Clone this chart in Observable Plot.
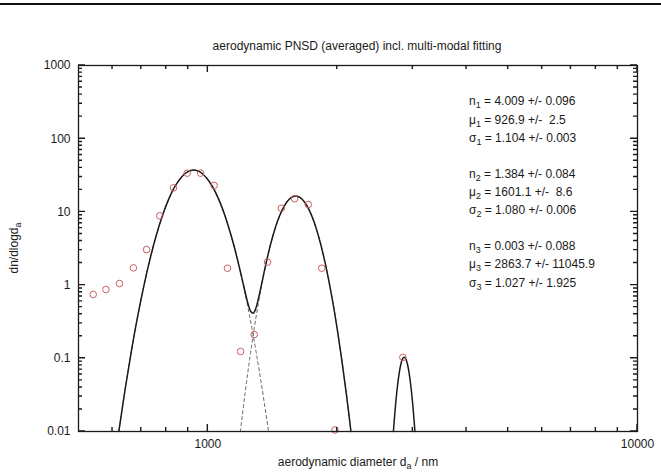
<!DOCTYPE html>
<html><head><meta charset="utf-8">
<script src="https://cdn.jsdelivr.net/npm/d3@7"></script>
<script src="https://cdn.jsdelivr.net/npm/@observablehq/plot@0.6"></script>
<style>
body{margin:0;background:#fff;}
#wrap{position:relative;width:661px;height:476px;overflow:hidden;}
#topline{position:absolute;left:0;top:3px;width:661px;height:2px;background:#111;}
#chart svg text{font-family:"Liberation Sans",Arial,sans-serif;}
</style></head><body>
<div id="wrap"><div id="chart"></div><div id="topline"></div></div>
<script>
// measured data points (diameter in nm, dn/dlogd)
const pointD = [541, 579, 623, 671, 720, 773, 832, 895, 962, 1034, 1111, 1192, 1282, 1377, 1482, 1592, 1713, 1841, 1977, 2844];
const pointV = [0.745, 0.87, 1.05, 1.72, 3.06, 8.85, 21.3, 33.8, 33.8, 23.0, 1.70, 0.124, 0.211, 2.06, 11.2, 15.1, 12.6, 1.70, 0.0105, 0.103];

// fitted mode 1 (dashed)
const mode1D = [620.6, 641.7, 663.5, 686.0, 709.4, 733.5, 758.4, 784.2, 810.9, 838.4, 866.9, 896.4, 926.9, 958.4, 991.0, 1024.7, 1059.6, 1095.6, 1132.8, 1171.3, 1211.1, 1252.3, 1294.9, 1338.9, 1384.4];
const mode1V = [0.01, 0.03718, 0.1233, 0.3650, 0.9633, 2.268, 4.765, 8.930, 14.93, 22.27, 29.62, 35.16, 37.22, 35.16, 29.62, 22.27, 14.93, 8.930, 4.765, 2.268, 0.9633, 0.3650, 0.1233, 0.03718, 0.01];

// fitted mode 2 (dashed)
const mode2D = [1190.6, 1220.3, 1250.8, 1282.1, 1314.1, 1347.0, 1380.7, 1415.2, 1450.5, 1486.8, 1524.0, 1562.1, 1601.1, 1641.1, 1682.2, 1724.2, 1767.3, 1811.5, 1856.8, 1903.2, 1950.7, 1999.5, 2049.5, 2100.7, 2153.2];
const mode2V = [0.01, 0.03266, 0.09622, 0.2558, 0.6134, 1.327, 2.591, 4.564, 7.252, 10.40, 13.45, 15.69, 16.52, 15.69, 13.45, 10.40, 7.252, 4.564, 2.591, 1.327, 0.6134, 0.2558, 0.09622, 0.03266, 0.01];

// total fit (solid)
const sumD = [620.6, 641.7, 663.5, 686.0, 709.4, 733.5, 758.4, 784.2, 810.9, 838.4, 866.9, 896.4, 926.9, 958.4, 991.0, 1024.7, 1059.6, 1095.6, 1132.8, 1148.2, 1174.9, 1202.3, 1230.3, 1244.5, 1258.9, 1275.0, 1288.2, 1303.2, 1318.3, 1349.0, 1380.4, 1412.5, 1450.5, 1486.8, 1524.0, 1562.1, 1601.1, 1641.1, 1682.2, 1724.2, 1767.3, 1811.5, 1856.8, 1903.2, 1950.7, 1999.5, 2049.5, 2100.7, 2153.2];
const sumV = [0.01, 0.03718, 0.1233, 0.3650, 0.9633, 2.268, 4.765, 8.930, 14.93, 22.27, 29.62, 35.16, 37.22, 35.16, 29.62, 22.27, 14.93, 8.930, 4.765, 3.584, 2.113, 1.1905, 0.667, 0.5192, 0.4355, 0.4138, 0.4524, 0.5601, 0.7461, 1.413, 2.590, 4.393, 7.252, 10.40, 13.45, 15.69, 16.52, 15.69, 13.45, 10.40, 7.252, 4.564, 2.591, 1.327, 0.6134, 0.2558, 0.09622, 0.03266, 0.01];

// fitted mode 3 (solid)
const mode3D = [2703.4, 2716.4, 2729.5, 2742.6, 2755.8, 2769.1, 2782.4, 2795.8, 2809.2, 2822.7, 2836.4, 2850.0, 2863.7, 2877.5, 2891.3, 2905.2, 2919.2, 2933.2, 2947.4, 2961.5, 2975.8, 2990.1, 3004.5, 3018.9, 3033.5];
const mode3V = [0.01, 0.01452, 0.02042, 0.02779, 0.03662, 0.04671, 0.05768, 0.06895, 0.07979, 0.08939, 0.09694, 0.1018, 0.1034, 0.1018, 0.09694, 0.08939, 0.07979, 0.06895, 0.05768, 0.04671, 0.03662, 0.02779, 0.02042, 0.01452, 0.01];

// ticks
const xMajor = [1000, 10000];
const xMajorLabels = ["1000", "10000"];
const xMinor = [600, 700, 800, 900, 2000, 3000, 4000, 5000, 6000, 7000, 8000, 9000];
const yMajor = [0.01, 0.1, 1, 10, 100, 1000];
const yMajorLabels = ["0.01", "0.1", "1", "10", "100", "1000"];
const yMinor = [0.02,0.03,0.04,0.05,0.06,0.07,0.08,0.09, 0.2,0.3,0.4,0.5,0.6,0.7,0.8,0.9, 2,3,4,5,6,7,8,9, 20,30,40,50,60,70,80,90, 200,300,400,500,600,700,800,900];

// texts
const titleText = "aerodynamic PNSD (averaged) incl. multi-modal fitting";
const xLabelParts = ["aerodynamic diameter d", "a", " / nm"];
const yLabelParts = ["dn/dlogd", "a", ""];
const fitLines = [
  ["n", "1", " = 4.009 +/- 0.096"],
  ["μ", "1", " = 926.9 +/-  2.5"],
  ["σ", "1", " = 1.104 +/- 0.003"],
  ["n", "2", " = 1.384 +/- 0.084"],
  ["μ", "2", " = 1601.1 +/-  8.6"],
  ["σ", "2", " = 1.080 +/- 0.006"],
  ["n", "3", " = 0.003 +/- 0.088"],
  ["μ", "3", " = 2863.7 +/- 11045.9"],
  ["σ", "3", " = 1.027 +/- 1.925"]
];
const fitLineY = [105, 124, 142, 178, 196, 214, 250, 268, 287];

const rows = (D, V) => D.map((d, i) => ({d, v: V[i]}));
const xLab = new Map(xMajor.map((d, i) => [d, xMajorLabels[i]]));
const yLab = new Map(yMajor.map((d, i) => [d, yMajorLabels[i]]));
const ink = "#1a1a1a";

const chart = Plot.plot({
  width: 661, height: 476,
  marginLeft: 78, marginRight: 24, marginTop: 65, marginBottom: 45,
  style: {fontFamily: "Liberation Sans, Arial, sans-serif", fontSize: "12px", background: "transparent", color: ink},
  x: {type: "log", domain: [500, 10000]},
  y: {type: "log", domain: [0.01, 1000]},
  marks: [
    Plot.line(rows(mode1D, mode1V), {x: "d", y: "v", stroke: "#666", strokeWidth: 1, strokeDasharray: "3,3", curve: "catmull-rom"}),
    Plot.line(rows(mode2D, mode2V), {x: "d", y: "v", stroke: "#666", strokeWidth: 1, strokeDasharray: "3,3", curve: "catmull-rom"}),
    Plot.line(rows(sumD, sumV), {x: "d", y: "v", stroke: ink, strokeWidth: 1.5, curve: "catmull-rom"}),
    Plot.line(rows(mode3D, mode3V), {x: "d", y: "v", stroke: ink, strokeWidth: 1.5, curve: "catmull-rom"}),
    Plot.dot(rows(pointD, pointV), {x: "d", y: "v", r: 3.3, stroke: "#c8605e", strokeWidth: 1, fill: "none"}),
    Plot.axisX(xMajor, {anchor: "bottom", tickSize: 0, tickPadding: 8, tickFormat: d => xLab.get(d), label: null}),
    Plot.axisY(yMajor, {anchor: "left", tickSize: 0, tickPadding: 8, tickFormat: d => yLab.get(d), label: null}),
    Plot.frame({stroke: ink, strokeWidth: 1.3})
  ]
});
document.getElementById("chart").appendChild(chart);

// inward tick marks on all four sides, placed with the plot's own scales
const svg = d3.select(chart);
const sx = chart.scale("x"), sy = chart.scale("y");
const xr = sx.range, yr = sy.range;
const x0 = Math.min(...xr), x1 = Math.max(...xr);
const yB = Math.max(...yr), yT = Math.min(...yr);
const gTicks = svg.append("g").attr("stroke", ink).attr("stroke-width", 1.4).attr("fill", "none");
function xTicks(vals, len) {
  vals.forEach(v => {
    const X = sx.apply(v);
    gTicks.append("path").attr("d", `M${X},${yB}V${yB - len}M${X},${yT}V${yT + len}`);
  });
}
function yTicks(vals, len) {
  vals.forEach(v => {
    const Y = sy.apply(v);
    gTicks.append("path").attr("d", `M${x0},${Y}H${x0 + len}M${x1},${Y}H${x1 - len}`);
  });
}
xTicks(xMinor, 4); xTicks(xMajor, 7);
yTicks(yMinor, 4); yTicks(yMajor, 7);

function addText(parts, x, y, opts = {}) {
  const t = svg.append("text")
    .attr("x", x).attr("y", y)
    .attr("text-anchor", opts.anchor || "start")
    .attr("fill", ink)
    .attr("font-size", opts.size || 12)
    .style("white-space", "pre")
    .attr("xml:space", "preserve");
  if (opts.rotate) t.attr("transform", `rotate(${opts.rotate},${x},${y})`);
  t.append("tspan").text(parts[0]);
  if (parts[1]) t.append("tspan").attr("dy", 3).attr("font-size", 9).text(parts[1]);
  if (parts[2]) t.append("tspan").attr("dy", parts[1] ? -3 : 0).text(parts[2]);
  return t;
}
addText([titleText], 357, 50, {anchor: "middle"});
addText(xLabelParts, 358, 466, {anchor: "middle"});
addText(yLabelParts, 18, 248, {anchor: "middle", rotate: -90});
fitLines.forEach((p, i) => addText(p, 469, fitLineY[i]));
</script>
</body></html>
